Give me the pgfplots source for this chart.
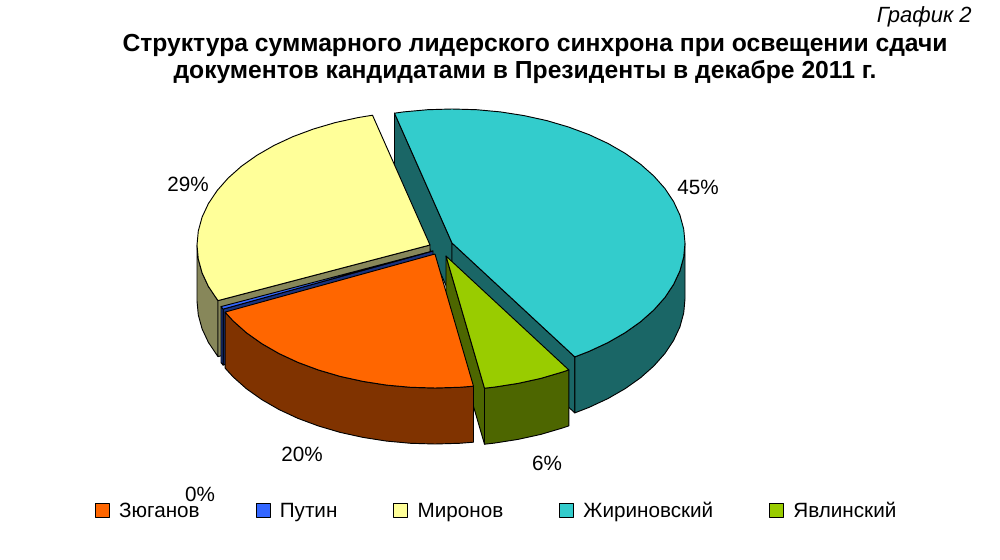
\documentclass[border=0pt]{standalone}
\usepackage{pgfplots}
\pgfplotsset{compat=1.18}
\usepackage{fontspec}
\setmainfont{Liberation Sans}

% shares: Zyuganov 20.5, Putin 0.3, Mironov 27.8, Zhirinovsky 45.1, Yavlinsky 6.2
% wedges drawn as polygons in picture pixels (1000 x 560, y down)
\definecolor{orTop}{HTML}{FF6600}\definecolor{orSide}{HTML}{803300}
\definecolor{blTop}{HTML}{3366FF}\definecolor{blSide}{HTML}{1A3380}
\definecolor{yeTop}{HTML}{FFFF99}\definecolor{yeSide}{HTML}{87875A}
\definecolor{cyTop}{HTML}{33CCCC}\definecolor{cySide}{HTML}{1A6666}
\definecolor{grTop}{HTML}{99CC00}\definecolor{grSide}{HTML}{4D6600}

\begin{document}
\begin{tikzpicture}
\useasboundingbox (0,0) rectangle (750pt,420pt);
\begin{axis}[
    at={(0,0)}, anchor=south west,
    width=750pt, height=420pt, scale only axis,
    xmin=0, xmax=1000, ymin=0, ymax=560, y dir=reverse,
    hide axis, clip=false,
    every axis plot/.append style={draw=black, line width=0.7pt, line join=round, forget plot},
    legend columns=-1,
    legend cell align=left,
    legend image code/.code={\draw[#1, draw=black, line width=0.6pt] (0pt,-4.5pt) rectangle (10.5pt,6pt);
      \path (15.5pt,0pt);},
    legend style={draw=none, fill=none, at={(axis cs:497,511)}, anchor=center,
      font=\fontsize{15.5}{18}\selectfont,
      /tikz/every even column/.append style={column sep=40pt}},
  ]
  % --- Жириновский
  \addplot[fill=cySide] coordinates {(452,243) (394.5,113.2) (394.5,169.2) (452,299)} --cycle;
  \addplot[fill=cySide] coordinates {(452,243) (574.8,356.9) (574.8,412.9) (452,299)} --cycle;
  \addplot[fill=cySide] coordinates {(685,243) (683.7,257) (679.9,270.9) (673.6,284.4) (664.9,297.5) (653.8,310) (640.5,321.8) (625.1,332.7) (607.9,342.6) (589,351.4) (574.8,356.9) (574.8,412.9) (589,407.4) (607.9,398.6) (625.1,388.7) (640.5,377.8) (653.8,366) (664.9,353.5) (673.6,340.4) (679.9,326.9) (683.7,313) (685,299)} --cycle;
  \addplot[fill=cyTop] coordinates {(452,243) (394.5,113.2) (403.6,111.9) (427.7,109.7) (452,109) (476.4,109.7) (500.4,111.9) (524,115.6) (546.8,120.6) (568.5,127) (589,134.6) (607.9,143.4) (625.1,153.3) (640.5,164.2) (653.8,176) (664.9,188.5) (673.6,201.6) (679.9,215.1) (683.7,229) (685,243) (683.7,257) (679.9,270.9) (673.6,284.4) (664.9,297.5) (653.8,310) (640.5,321.8) (625.1,332.7) (607.9,342.6) (589,351.4) (574.8,356.9)} --cycle;
  % --- Миронов
  \addplot[fill=yeSide] coordinates {(218,300.6) (217.2,299.5) (208.4,286.4) (202.1,272.9) (198.3,259) (197,245) (197,301) (198.3,315) (202.1,328.9) (208.4,342.4) (217.2,355.5) (218,356.6)} --cycle;
  \addplot[fill=yeSide] coordinates {(430,245) (218,300.6) (218,356.6) (430,301)} --cycle;
  \addplot[fill=yeTop] coordinates {(430,245) (218,300.6) (217.2,299.5) (208.4,286.4) (202.1,272.9) (198.3,259) (197,245) (198.3,231) (202.1,217.1) (208.4,203.6) (217.2,190.5) (228.2,178) (241.5,166.2) (256.9,155.3) (274.1,145.4) (293,136.6) (313.5,129) (335.2,122.6) (358,117.6) (372.5,115.2)} --cycle;
  % --- Путин
  \addplot[fill=blSide] coordinates {(433,251) (223.1,309.1) (223.1,365.1) (433,307)} --cycle;
  \addplot[fill=blSide] coordinates {(223.1,309.1) (221,306.6) (221,362.6) (223.1,365.1)} --cycle;
  \addplot[fill=blTop] coordinates {(433,251) (223.1,309.1) (221,306.6)} --cycle;
  % --- Явлинский
  \addplot[fill=grSide] coordinates {(446,256) (484.5,388.2) (484.5,444.2) (446,312)} --cycle;
  \addplot[fill=grSide] coordinates {(568.8,369.9) (562.5,372) (540.8,378.4) (518,383.4) (494.4,387.1) (484.5,388.2) (484.5,444.2) (494.4,443.1) (518,439.4) (540.8,434.4) (562.5,428) (568.8,425.9)} --cycle;
  \addplot[fill=grTop] coordinates {(446,256) (568.8,369.9) (562.5,372) (540.8,378.4) (518,383.4) (494.4,387.1) (484.5,388.2)} --cycle;
  % --- Зюганов
  \addplot[fill=orSide] coordinates {(473.5,386.2) (459.4,387.3) (435,388) (410.7,387.3) (386.6,385.1) (363,381.4) (340.2,376.4) (318.5,370) (298,362.4) (279.1,353.6) (261.9,343.7) (246.5,332.8) (233.2,321) (225.1,312.1) (225.1,368.1) (233.2,377) (246.5,388.8) (261.9,399.7) (279.1,409.6) (298,418.4) (318.5,426) (340.2,432.4) (363,437.4) (386.6,441.1) (410.7,443.3) (435,444) (459.4,443.3) (473.5,442.2)} --cycle;
  \addplot[fill=orTop] coordinates {(435,254) (473.5,386.2) (459.4,387.3) (435,388) (410.7,387.3) (386.6,385.1) (363,381.4) (340.2,376.4) (318.5,370) (298,362.4) (279.1,353.6) (261.9,343.7) (246.5,332.8) (233.2,321) (225.1,312.1)} --cycle;

  % legend
  \addlegendimage{fill=orTop}\addlegendentry{Зюганов}
  \addlegendimage{fill=blTop}\addlegendentry{Путин}
  \addlegendimage{fill=yeTop}\addlegendentry{Миронов}
  \addlegendimage{fill=cyTop}\addlegendentry{Жириновский}
  \addlegendimage{fill=grTop}\addlegendentry{Явлинский}

  % data labels
  \begin{scope}[every node/.style={font=\fontsize{15.5}{18}\selectfont, inner sep=0pt}]
    \node at (axis cs:302,454) {20\%};
    \node at (axis cs:200,494) {0\%};
    \node at (axis cs:188,184) {29\%};
    \node at (axis cs:698,187) {45\%};
    \node at (axis cs:547,463) {6\%};
  \end{scope}

  % titles
  \node[anchor=base east, inner sep=0pt, font=\itshape\fontsize{16.5}{20}\selectfont] at (axis cs:972,23) {График 2};
  \node[anchor=base, inner sep=0pt, font=\bfseries\fontsize{18.5}{22}\selectfont] at (axis cs:535,52) {Структура суммарного лидерского синхрона при освещении сдачи};
  \node[anchor=base, inner sep=0pt, font=\bfseries\fontsize{18.5}{22}\selectfont] at (axis cs:525,79) {документов кандидатами в Президенты в декабре 2011 г.};
\end{axis}
\end{tikzpicture}
\end{document}
